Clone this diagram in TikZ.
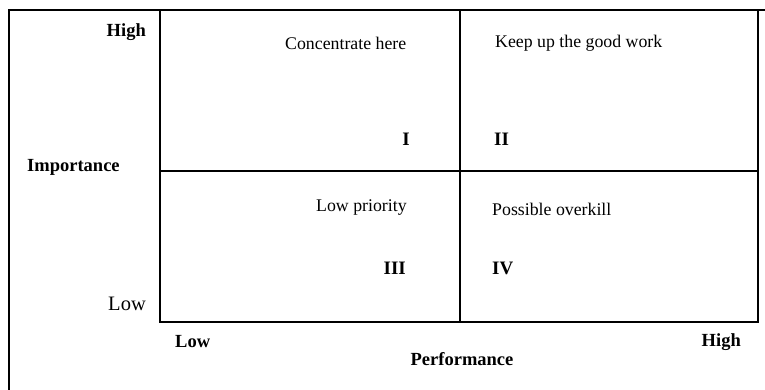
\documentclass[tikz,border=0pt]{standalone}
\usepackage{fontspec}
\setmainfont{Liberation Serif}
\begin{document}
\begin{tikzpicture}[x=1pt,y=-1pt,
  axislab/.style={inner sep=0pt, font=\fontsize{18.5}{20}\selectfont\bfseries},
  axisreg/.style={inner sep=0pt, font=\fontsize{20.5}{22}\selectfont},
  quadlab/.style={inner sep=0pt, font=\fontsize{17.8}{20}\selectfont},
  numlab/.style={inner sep=0pt, font=\fontsize{19}{20}\selectfont\bfseries},
  boxline/.style={line width=2pt},
  frameline/.style={line width=1.4pt}]
\useasboundingbox (0,0) rectangle (765,390);
% outer frame
\coordinate (fTL) at (9,10);
\coordinate (fBL) at (9,390);
\coordinate (fTR) at (765,10);
\draw[frameline] (fBL) -- (fTL) -- (fTR);
% matrix box
\coordinate (bTL) at (160,10);
\coordinate (bTR) at (758,10);
\coordinate (bBR) at (758,322);
\coordinate (bBL) at (160,322);
\coordinate (mT) at (460,10);
\coordinate (mB) at (460,322);
\coordinate (mL) at (160,171);
\coordinate (mR) at (758,171);
\draw[boxline] (bTL) -- (bTR) -- (bBR) -- (bBL) -- cycle;
\draw[boxline] (mT) -- (mB);
\draw[boxline] (mL) -- (mR);
% axis labels
\node[axislab, anchor=east] (hiY) at (146,32) {High};
\node[axislab, anchor=west] (imp) at (27,167) {Importance};
\node[axisreg, anchor=east] (loY) at (146,304) {Low};
\node[axislab, anchor=west] (loX) at (175,342) {Low};
\node[axislab, anchor=east] (hiX) at (741,342) {High};
\node[axislab] (perf) at (462,359) {Performance};
% quadrant texts
\node[quadlab, anchor=west] (q1t) at (285,43) {Concentrate here};
\node[quadlab, anchor=west] (q2t) at (495,43) {Keep up the good work};
\node[quadlab, anchor=west] (q3t) at (316,208) {Low priority};
\node[quadlab, anchor=west] (q4t) at (492,209) {Possible overkill};
\node[numlab, anchor=east] (q1) at (410,139) {I};
\node[numlab, anchor=west] (q2) at (494,139) {II};
\node[numlab, anchor=east] (q3) at (406,268) {III};
\node[numlab, anchor=west] (q4) at (492,268) {IV};
\end{tikzpicture}
\end{document}
